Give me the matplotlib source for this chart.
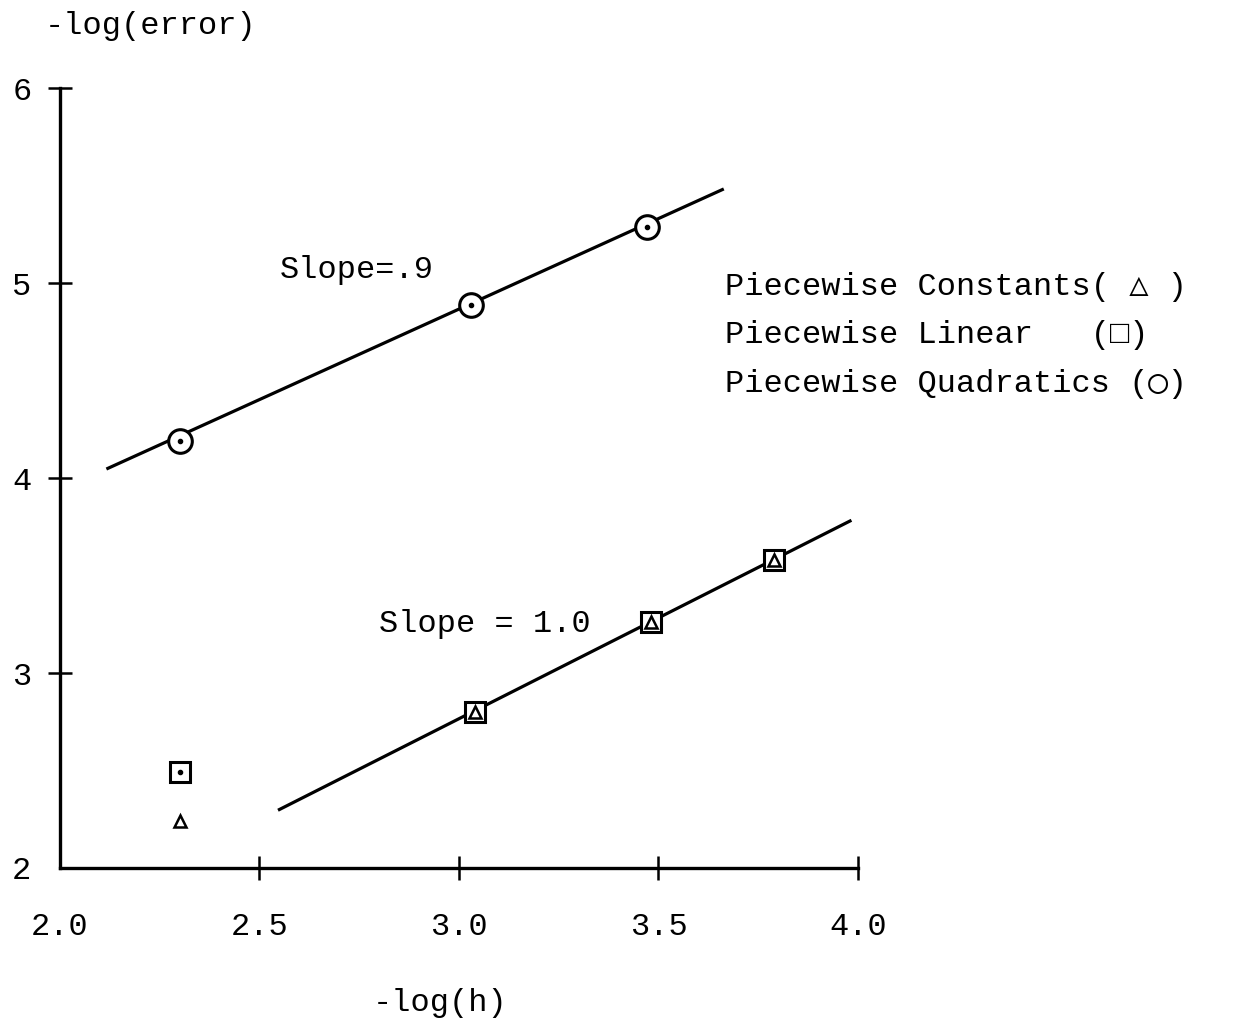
import matplotlib
matplotlib.use("Agg")
import matplotlib.pyplot as plt

# data
h_quad = [2.30, 3.03, 3.47]
err_quad = [4.19, 4.89, 5.29]
h_lin = [2.30, 3.04, 3.48, 3.79]
err_lin = [2.49, 2.80, 3.26, 3.58]
h_const = [2.30, 3.04, 3.48, 3.79]
err_const = [2.24, 2.80, 3.26, 3.58]

fit_quad_x = [2.12, 3.66]
fit_quad_y = [4.05, 5.48]
fit_lin_x = [2.55, 3.98]
fit_lin_y = [2.30, 3.78]

xticks = [2.0, 2.5, 3.0, 3.5, 4.0]
xticklabels = ["2.0", "2.5", "3.0", "3.5", "4.0"]
yticks = [2, 3, 4, 5, 6]
yticklabels = ["2", "3", "4", "5", "6"]

legend_lines = ["Piecewise Constants( \u25b3 )",
                "Piecewise Linear   (\u25a1)",
                "Piecewise Quadratics (\u25ef)"]

plt.rcParams["font.family"] = ["Liberation Mono", "DejaVu Sans Mono", "DejaVu Sans"]
fs = 23

fig = plt.figure(figsize=(12.44, 10.26), dpi=100)
ax = fig.add_axes([0.0482, 0.154, 0.6415, 0.760])
ax.set_xlim(2.0, 4.0)
ax.set_ylim(2.0, 6.0)

for s in ["top", "right"]:
    ax.spines[s].set_visible(False)
for s in ["left", "bottom"]:
    ax.spines[s].set_linewidth(2.4)

ax.set_xticks(xticks)
ax.set_xticklabels(xticklabels, fontsize=fs)
ax.set_yticks(yticks)
ax.set_yticklabels(yticklabels, fontsize=fs)
ax.tick_params(axis="x", direction="inout", length=17, width=1.8, pad=23)
ax.tick_params(axis="y", direction="inout", length=17, width=1.8, pad=12)
ax.xaxis.get_major_ticks()[0].tick1line.set_visible(False)
ax.yaxis.get_major_ticks()[0].tick1line.set_visible(False)

# fitted lines
ax.plot(fit_quad_x, fit_quad_y, color="black", lw=2.3)
ax.plot(fit_lin_x, fit_lin_y, color="black", lw=2.3)

# quadratics: circle with center dot
ax.plot(h_quad, err_quad, ls="none", marker="o", ms=17, mfc="white",
        mec="black", mew=2.2, zorder=3)
ax.plot(h_quad, err_quad, ls="none", marker="o", ms=3, color="black", zorder=4)

# linear: squares
ax.plot(h_lin, err_lin, ls="none", marker="s", ms=15, mfc="white",
        mec="black", mew=2.2, zorder=3)
ax.plot(h_lin[:1], err_lin[:1], ls="none", marker="o", ms=3, color="black", zorder=4)

# constants: triangles
ax.plot(h_const, err_const, ls="none", marker="^", ms=9, mfc="white",
        mec="black", mew=1.8, zorder=5)

ax.text(2.55, 5.07, "Slope=.9", fontsize=fs, va="center", ha="left")
ax.text(2.80, 3.25, "Slope = 1.0", fontsize=fs, va="center", ha="left")

for i, t in enumerate(legend_lines):
    ax.text(3.667, 4.98 - i * 0.248, t, fontsize=fs, va="center", ha="left")

fig.text(0.121, 0.975, "-log(error)", fontsize=fs, ha="center", va="center")
fig.text(0.354, 0.022, "-log(h)", fontsize=fs, ha="center", va="center")

fig.savefig("out.png", dpi=100, facecolor="white")
